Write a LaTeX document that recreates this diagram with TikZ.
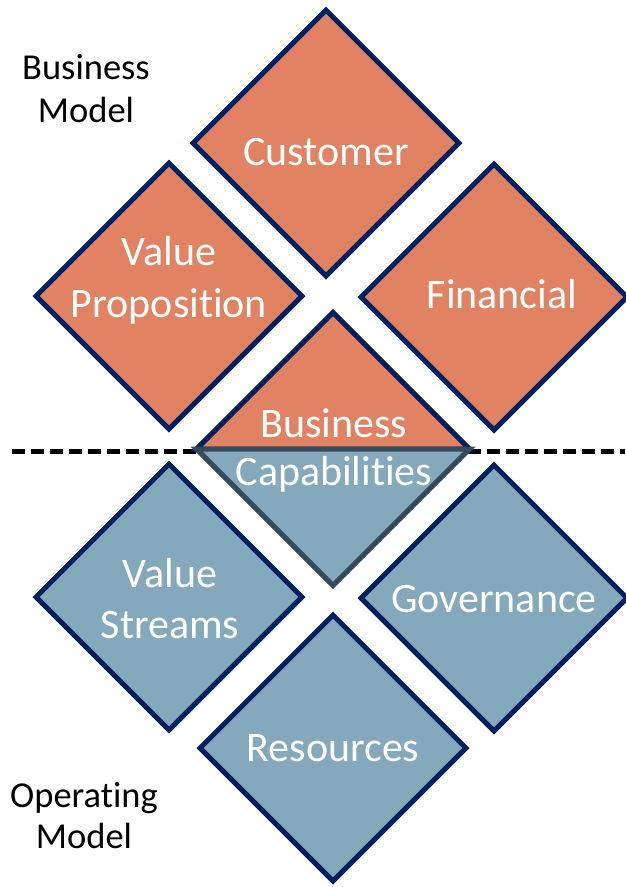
\documentclass[tikz,border=0pt]{standalone}
\usepackage{fontspec}
\setmainfont{Carlito}[Ligatures={NoCommon,NoRequired,NoContextual}]
\usetikzlibrary{shapes.geometric}
\definecolor{bmorange}{RGB}{225,131,99}
\definecolor{omblue}{RGB}{132,169,189}
\definecolor{navyline}{RGB}{0,32,96}
\definecolor{slateline}{RGB}{52,75,91}
\begin{document}
\begin{tikzpicture}[x=1pt,y=-1pt,
  dia/.style={diamond, aspect=1, minimum width=268pt, minimum height=268pt, inner sep=0pt, line width=5pt},
  bm/.style={dia, draw=navyline, fill=bmorange},
  om/.style={dia, draw=navyline, fill=omblue},
  lbl/.style={text=white, font=\fontsize{42}{51}\selectfont, align=center, anchor=base, inner sep=0pt},
  side/.style={text=black, font=\fontsize{36.5}{43}\selectfont, align=center, anchor=base, inner sep=0pt},
  divider/.style={line width=5pt, dash pattern=on 13pt off 6pt}]
\useasboundingbox (0,0) rectangle (625,887);
% divider
\coordinate (dl) at (12,451);
\coordinate (dr) at (625,451);
\draw[divider] (dl) -- (dr);
% diamonds
\node[bm] (cust) at (326,143) {};
\node[bm] (vp) at (169,296) {};
\node[bm] (fin) at (494,297) {};
\node[om] (vs) at (169,597) {};
\node[om] (gov) at (494,598) {};
\node[om] (res) at (333,748) {};
\node[dia] (bc) at (333,449) {};
\draw[line width=5pt, line join=miter, draw=navyline, fill=bmorange] (bc.west) -- (bc.north) -- (bc.east) -- cycle;
\draw[line width=5pt, line join=miter, draw=slateline, fill=omblue] (bc.west) -- (bc.south) -- (bc.east) -- cycle;
% labels
\node[lbl] (tcust) at (326,165) {Customer};
\node[lbl] (tvp) at (169,317) {Value\\[1pt]Proposition};
\node[lbl] (tfin) at (502,308) {Financial};
\node[lbl] (tbc) at (334,485) {Business\\[-3pt]Capabilities};
\node[lbl] (tgov) at (494,612) {Governance};
\node[lbl] (tvs) at (170,638) {Value\\Streams};
\node[lbl] (tres) at (333,761) {Resources};
\node[side] (tbm) at (86,122) {Business\\Model};
\node[side] (tom) at (84,848) {Operating\\[-2pt]Model};
\end{tikzpicture}
\end{document}
